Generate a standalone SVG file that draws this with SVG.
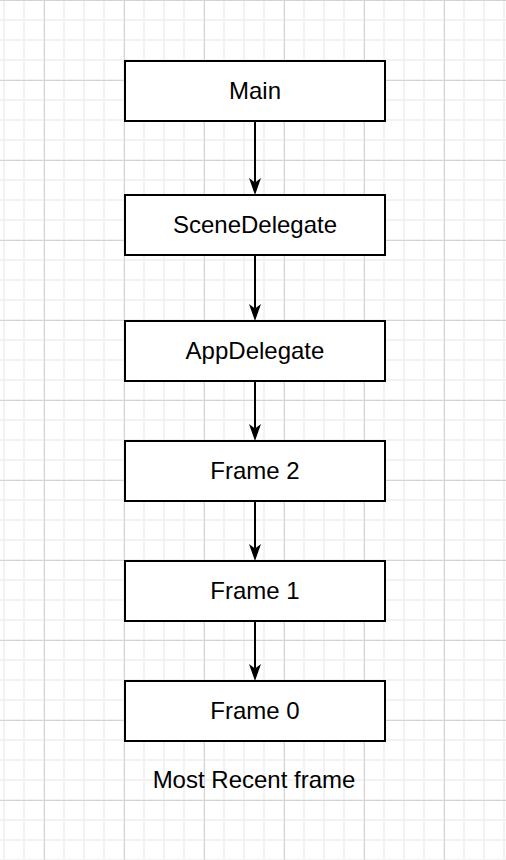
<svg xmlns="http://www.w3.org/2000/svg" width="506" height="860" viewBox="0 0 506 860">
  <style>
    .box { fill: #ffffff; stroke: #000000; stroke-width: 2; }
    .lbl { font-family: "Liberation Sans", Arial, Helvetica, sans-serif; font-size: 24px; fill: #000000; text-anchor: middle; }
    .edge { stroke: #000000; stroke-width: 2; fill: none; marker-end: url(#arrow); }
  </style>
  <defs>
    <pattern id="minor" patternUnits="userSpaceOnUse" x="-6" y="-10" width="20" height="20">
      <path d="M10 0 V20 M0 10 H20" stroke="#f2f2f2" stroke-width="2" fill="none"/>
    </pattern>
    <pattern id="major" patternUnits="userSpaceOnUse" x="4" y="-40" width="80" height="80">
      <path d="M40.5 0 V80 M0 40.5 H80" stroke="#d4d4d4" stroke-width="1" fill="none"/>
    </pattern>
    <marker id="arrow" markerUnits="userSpaceOnUse" markerWidth="20" markerHeight="16" viewBox="-1 -8 20 16" refX="4.5" refY="0" orient="auto">
      <path d="M0,-6 L17,0 L0,6 L4.5,0 Z" fill="#000000" stroke="none"/>
    </marker>
  </defs>

  <rect width="506" height="860" fill="#ffffff"/>
  <rect width="506" height="860" fill="url(#minor)"/>
  <rect width="506" height="860" fill="url(#major)"/>

  <g id="connectors">
    <line class="edge" x1="255" y1="122" x2="255" y2="182.5"/>
    <line class="edge" x1="255" y1="256" x2="255" y2="308.5"/>
    <line class="edge" x1="255" y1="382" x2="255" y2="428.5"/>
    <line class="edge" x1="255" y1="502" x2="255" y2="548.5"/>
    <line class="edge" x1="255" y1="622" x2="255" y2="668.5"/>
  </g>

  <g id="main">
    <rect class="box" x="125" y="61" width="260" height="60"/>
    <text class="lbl" x="255" y="98.5">Main</text>
  </g>
  <g id="scenedelegate">
    <rect class="box" x="125" y="195" width="260" height="60"/>
    <text class="lbl" x="255" y="232.5">SceneDelegate</text>
  </g>
  <g id="appdelegate">
    <rect class="box" x="125" y="321" width="260" height="60"/>
    <text class="lbl" x="255" y="358.5">AppDelegate</text>
  </g>
  <g id="frame2">
    <rect class="box" x="125" y="441" width="260" height="60"/>
    <text class="lbl" x="255" y="478.5">Frame 2</text>
  </g>
  <g id="frame1">
    <rect class="box" x="125" y="561" width="260" height="60"/>
    <text class="lbl" x="255" y="598.5">Frame 1</text>
  </g>
  <g id="frame0">
    <rect class="box" x="125" y="681" width="260" height="60"/>
    <text class="lbl" x="255" y="718.5">Frame 0</text>
  </g>
  <g id="caption">
    <text class="lbl" x="254" y="788">Most Recent frame</text>
  </g>
</svg>
